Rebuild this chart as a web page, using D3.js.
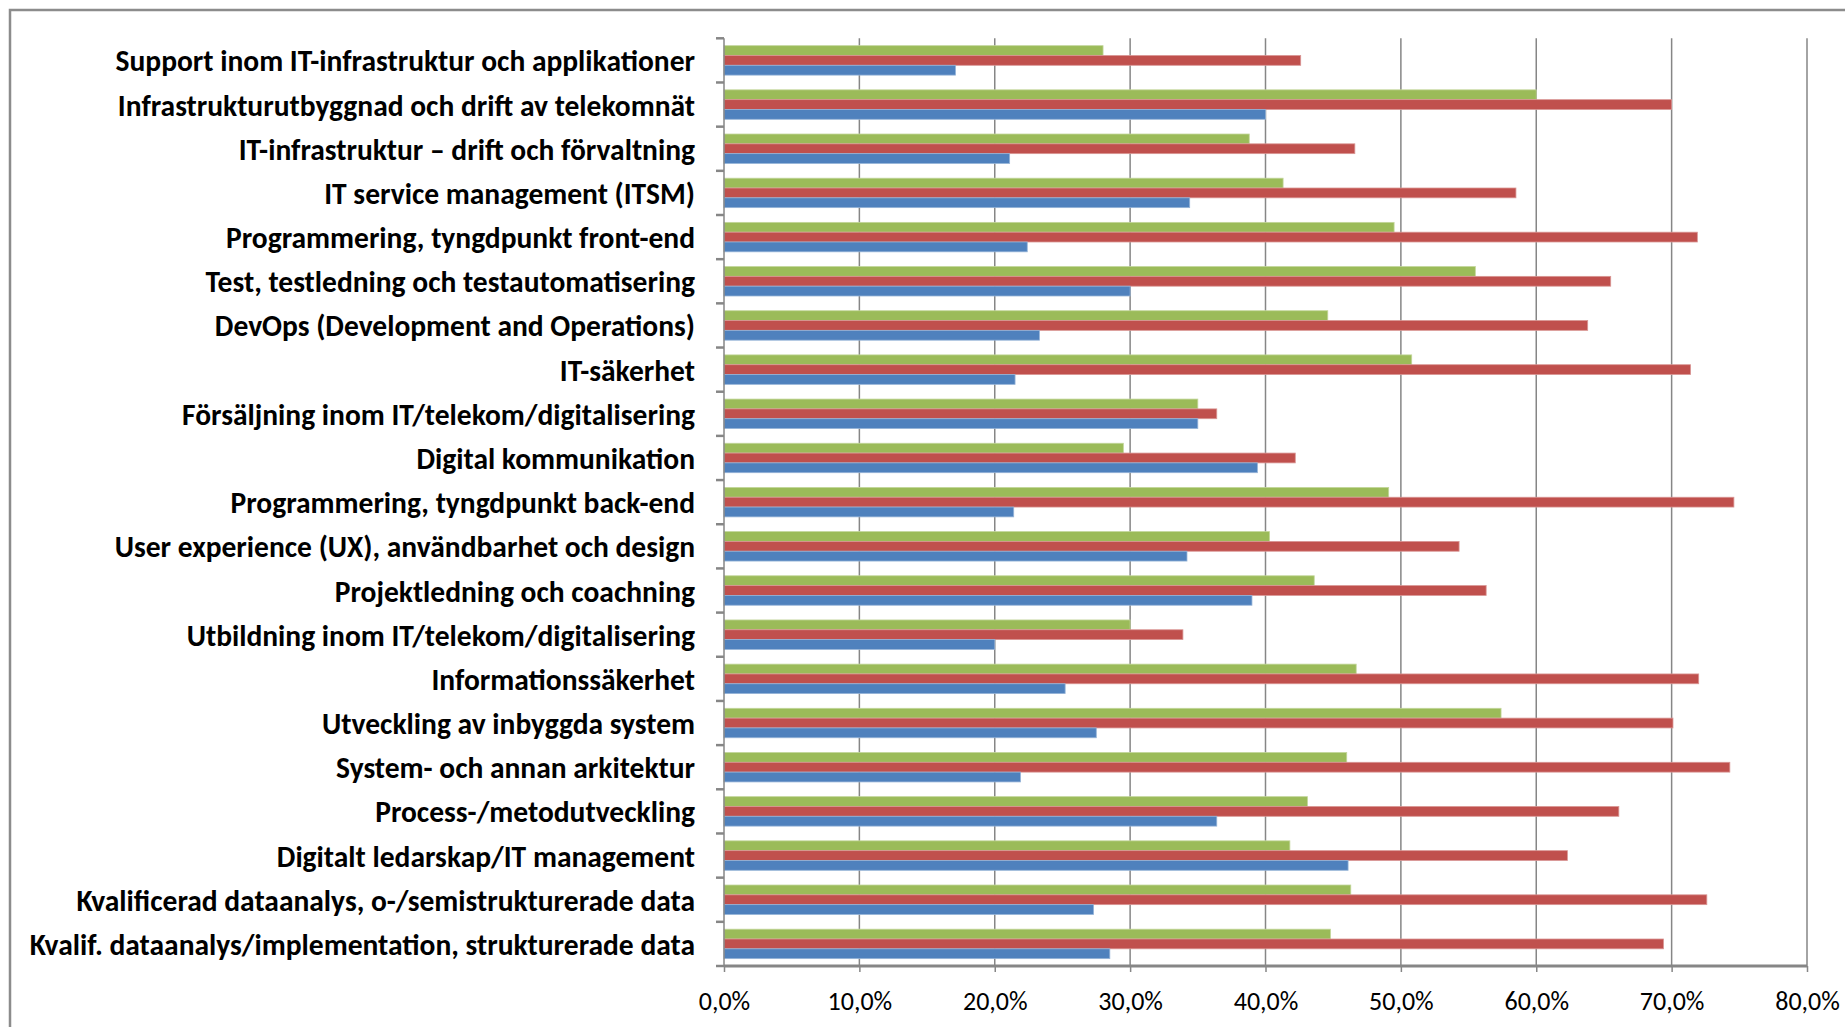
<!DOCTYPE html>
<html>
<head>
<meta charset="utf-8">
<script src="https://cdn.jsdelivr.net/npm/d3@7"></script>
<style>
  html, body { margin: 0; padding: 0; background: #fff; }
  svg { display: block; }
</style>
</head>
<body>
<svg id="chart" width="1845" height="1027"></svg>
<script>
// Competence areas, listed top to bottom
const categories = [
  "Support inom IT-infrastruktur och applikationer",
  "Infrastrukturutbyggnad och drift av telekomnät",
  "IT-infrastruktur – drift och förvaltning",
  "IT service management (ITSM)",
  "Programmering, tyngdpunkt front-end",
  "Test, testledning och testautomatisering",
  "DevOps (Development and Operations)",
  "IT-säkerhet",
  "Försäljning inom IT/telekom/digitalisering",
  "Digital kommunikation",
  "Programmering, tyngdpunkt back-end",
  "User experience (UX), användbarhet och design",
  "Projektledning och coachning",
  "Utbildning inom IT/telekom/digitalisering",
  "Informationssäkerhet",
  "Utveckling av inbyggda system",
  "System- och annan arkitektur",
  "Process-/metodutveckling",
  "Digitalt ledarskap/IT management",
  "Kvalificerad dataanalys, o-/semistrukturerade data",
  "Kvalif. dataanalys/implementation, strukturerade data"
];

// Share in percent, one array per series (drawn green, red, blue within each group)
const serie1 = [28.0, 60.0, 38.8, 41.3, 49.5, 55.5, 44.6, 50.8, 35.0, 29.5, 49.1,
                40.3, 43.6, 30.0, 46.7, 57.4, 46.0, 43.1, 41.8, 46.3, 44.8];
const serie2 = [42.6, 70.0, 46.6, 58.5, 71.9, 65.5, 63.8, 71.4, 36.4, 42.2, 74.6,
                54.3, 56.3, 33.9, 72.0, 70.1, 74.3, 66.1, 62.3, 72.6, 69.4];
const serie3 = [17.1, 40.0, 21.1, 34.4, 22.4, 30.0, 23.3, 21.5, 35.0, 39.4, 21.4,
                34.2, 39.0, 20.0, 25.2, 27.5, 21.9, 36.4, 46.1, 27.3, 28.5];

const seriesNames = ["serie1", "serie2", "serie3"];
const seriesValues = [serie1, serie2, serie3];
const seriesColors = ["#9BBB59", "#C0504D", "#4F81BD"];
const seriesEdges = ["#C3D69B", "#D99694", "#95B3D7"];

const tickValues = [0, 10, 20, 30, 40, 50, 60, 70, 80];
const tickLabels = ["0,0%", "10,0%", "20,0%", "30,0%", "40,0%", "50,0%", "60,0%", "70,0%", "80,0%"];

const svg = d3.select("#chart");
const gridColor = "#868686";
const fontFamily = "Carlito, Calibri, Lato, 'Liberation Sans', sans-serif";

// outer chart frame
svg.append("rect")
  .attr("x", 10).attr("y", 10)
  .attr("width", 1900).attr("height", 1100)
  .attr("fill", "#fff")
  .attr("stroke", "#8c8c8c")
  .attr("stroke-width", 2.5);

const plot = { left: 724, right: 1807, top: 38.3, bottom: 966 };

const x = d3.scaleLinear().domain([0, 80]).range([plot.left, plot.right]);

const y = d3.scaleBand()
  .domain(categories)
  .range([plot.top, plot.bottom])
  .paddingInner(1 / 3)
  .paddingOuter(1 / 6);

const ySub = d3.scaleBand()
  .domain(seriesNames)
  .range([0, y.bandwidth()]);

// vertical gridlines
svg.append("g")
  .selectAll("line")
  .data(tickValues.slice(1))
  .join("line")
  .attr("x1", d => x(d)).attr("x2", d => x(d))
  .attr("y1", plot.top).attr("y2", plot.bottom)
  .attr("stroke", gridColor)
  .attr("stroke-width", 1.5);

// bars
const groups = svg.append("g")
  .selectAll("g")
  .data(categories)
  .join("g")
  .attr("transform", d => `translate(0,${y(d)})`);

groups.selectAll("rect")
  .data((d, i) => seriesNames.map((s, k) => ({ s, k, v: seriesValues[k][i] })))
  .join("rect")
  .attr("x", x(0))
  .attr("y", d => ySub(d.s))
  .attr("width", d => x(d.v) - x(0))
  .attr("height", ySub.bandwidth())
  .attr("fill", d => seriesColors[d.k])
  .attr("stroke", d => seriesEdges[d.k])
  .attr("stroke-width", 0.8);

// category axis: line plus tick marks between groups
const step = y.step();
const boundaries = d3.range(categories.length + 1).map(i => plot.top + i * step);
svg.append("line")
  .attr("x1", plot.left).attr("x2", plot.left)
  .attr("y1", plot.top).attr("y2", plot.bottom)
  .attr("stroke", gridColor).attr("stroke-width", 1.5);
svg.append("g")
  .selectAll("line")
  .data(boundaries)
  .join("line")
  .attr("x1", plot.left - 8).attr("x2", plot.left)
  .attr("y1", d => d).attr("y2", d => d)
  .attr("stroke", gridColor).attr("stroke-width", 2.5);

// category labels
svg.append("g")
  .selectAll("text")
  .data(categories)
  .join("text")
  .attr("x", 695)
  .attr("y", d => y(d) + y.bandwidth() / 2 + 1)
  .attr("text-anchor", "end")
  .attr("dominant-baseline", "central")
  .attr("font-family", fontFamily)
  .attr("font-weight", "bold")
  .attr("font-size", 29.5)
  .attr("fill", "#000")
  .text(d => d);

// value axis
const xAxis = d3.axisBottom(x)
  .tickValues(tickValues)
  .tickFormat((d, i) => tickLabels[i])
  .tickSize(6)
  .tickPadding(20);

const gx = svg.append("g")
  .attr("transform", `translate(0,${plot.bottom})`)
  .call(xAxis);
gx.select(".domain")
  .attr("stroke", gridColor)
  .attr("stroke-width", 3)
  .attr("d", `M${plot.left},0H${plot.right}`);
gx.selectAll(".tick line")
  .attr("stroke", gridColor)
  .attr("stroke-width", 1.5);
gx.selectAll(".tick text")
  .attr("font-family", fontFamily)
  .attr("font-size", 26)
  .attr("fill", "#000");
</script>
</body>
</html>
